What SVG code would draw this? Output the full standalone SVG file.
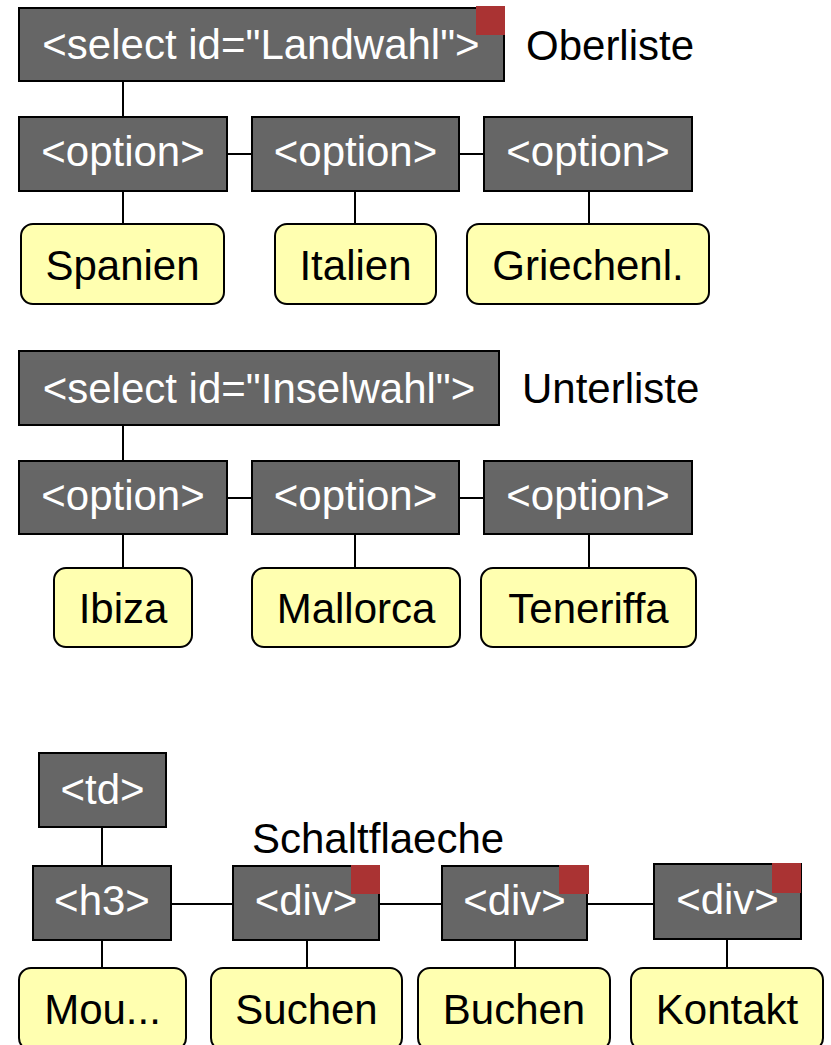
<svg xmlns="http://www.w3.org/2000/svg" width="831" height="1045" viewBox="0 0 831 1045">
<style>
.tag{fill:#666666;stroke:#000;stroke-width:2}
.val{fill:#ffffb0;stroke:#000;stroke-width:2}
.mark{fill:#aa3333}
.tw{fill:#fff;font-family:"Liberation Sans",Arial,sans-serif;font-size:42px;text-anchor:middle}
.tb{fill:#000;font-family:"Liberation Sans",Arial,sans-serif;font-size:42px;text-anchor:middle}
.lb{fill:#000;font-family:"Liberation Sans",Arial,sans-serif;font-size:42px}
#connectors line{stroke:#000;stroke-width:2}
</style>
<rect width="831" height="1045" fill="#fff"/>
<g id="connectors">
<line x1="123" y1="81" x2="123" y2="117"/>
<line x1="227" y1="154" x2="252" y2="154"/>
<line x1="459" y1="154" x2="484" y2="154"/>
<line x1="123" y1="191" x2="123" y2="224"/>
<line x1="355" y1="191" x2="355" y2="224"/>
<line x1="589" y1="191" x2="589" y2="224"/>
<line x1="123" y1="425" x2="123" y2="461"/>
<line x1="227" y1="498" x2="252" y2="498"/>
<line x1="459" y1="498" x2="484" y2="498"/>
<line x1="123" y1="534" x2="123" y2="568"/>
<line x1="355" y1="534" x2="355" y2="568"/>
<line x1="589" y1="534" x2="589" y2="568"/>
<line x1="102" y1="827" x2="102" y2="866"/>
<line x1="171" y1="904" x2="233" y2="904"/>
<line x1="379" y1="904" x2="442" y2="904"/>
<line x1="587" y1="904" x2="654" y2="904"/>
<line x1="102" y1="940" x2="102" y2="968"/>
<line x1="307" y1="940" x2="307" y2="968"/>
<line x1="515" y1="940" x2="515" y2="968"/>
<line x1="727" y1="939" x2="727" y2="968"/>
</g>
<g id="select-landwahl"><rect class="tag" x="19" y="8" width="485" height="73"/><rect class="mark" x="476" y="6" width="29" height="29"/><text class="tw" x="261" y="59">&lt;select id="Landwahl"&gt;</text></g>
<g id="label-oberliste"><text class="lb" x="526" y="60">Oberliste</text></g>
<g id="opt1"><rect class="tag" x="19" y="117" width="208" height="74"/><text class="tw" x="123" y="166">&lt;option&gt;</text></g>
<g id="opt2"><rect class="tag" x="252" y="117" width="207" height="74"/><text class="tw" x="355.5" y="166">&lt;option&gt;</text></g>
<g id="opt3"><rect class="tag" x="484" y="117" width="208" height="74"/><text class="tw" x="588" y="166">&lt;option&gt;</text></g>
<g id="spanien"><rect class="val" x="21" y="224" width="203" height="80" rx="12"/><text class="tb" x="122.5" y="280">Spanien</text></g>
<g id="italien"><rect class="val" x="275" y="224" width="161" height="80" rx="12"/><text class="tb" x="355.5" y="280">Italien</text></g>
<g id="griechenl"><rect class="val" x="467" y="224" width="242" height="80" rx="12"/><text class="tb" x="588" y="280">Griechenl.</text></g>
<g id="select-inselwahl"><rect class="tag" x="19" y="351" width="480" height="74"/><text class="tw" x="259" y="403">&lt;select id="Inselwahl"&gt;</text></g>
<g id="label-unterliste"><text class="lb" x="522" y="403">Unterliste</text></g>
<g id="opt4"><rect class="tag" x="19" y="461" width="208" height="73"/><text class="tw" x="123" y="510">&lt;option&gt;</text></g>
<g id="opt5"><rect class="tag" x="252" y="461" width="207" height="73"/><text class="tw" x="355.5" y="510">&lt;option&gt;</text></g>
<g id="opt6"><rect class="tag" x="484" y="461" width="208" height="73"/><text class="tw" x="588" y="510">&lt;option&gt;</text></g>
<g id="ibiza"><rect class="val" x="54" y="568" width="138" height="79" rx="12"/><text class="tb" x="123" y="623">Ibiza</text></g>
<g id="mallorca"><rect class="val" x="252" y="568" width="208" height="79" rx="12"/><text class="tb" x="356" y="623">Mallorca</text></g>
<g id="teneriffa"><rect class="val" x="481" y="568" width="215" height="79" rx="12"/><text class="tb" x="588.5" y="623">Teneriffa</text></g>
<g id="td"><rect class="tag" x="39" y="753" width="127" height="74"/><text class="tw" x="102.5" y="804">&lt;td&gt;</text></g>
<g id="label-schaltflaeche"><text class="lb" x="252" y="853">Schaltflaeche</text></g>
<g id="h3"><rect class="tag" x="33" y="866" width="138" height="74"/><text class="tw" x="102" y="915">&lt;h3&gt;</text></g>
<g id="div1"><rect class="tag" x="233" y="866" width="146" height="74"/><rect class="mark" x="351" y="865" width="29" height="29"/><text class="tw" x="306" y="915">&lt;div&gt;</text></g>
<g id="div2"><rect class="tag" x="442" y="866" width="145" height="74"/><rect class="mark" x="559" y="865" width="30" height="29"/><text class="tw" x="514.5" y="915">&lt;div&gt;</text></g>
<g id="div3"><rect class="tag" x="654" y="864" width="147" height="75"/><rect class="mark" x="772" y="863" width="29" height="30"/><text class="tw" x="727.5" y="914">&lt;div&gt;</text></g>
<g id="mou"><rect class="val" x="19" y="968" width="167" height="82" rx="12"/><text class="tb" x="102.5" y="1024">Mou...</text></g>
<g id="suchen"><rect class="val" x="211" y="968" width="191" height="82" rx="12"/><text class="tb" x="306.5" y="1024">Suchen</text></g>
<g id="buchen"><rect class="val" x="418" y="968" width="192" height="82" rx="12"/><text class="tb" x="514" y="1024">Buchen</text></g>
<g id="kontakt"><rect class="val" x="631" y="968" width="192" height="82" rx="12"/><text class="tb" x="727" y="1024">Kontakt</text></g>
</svg>
